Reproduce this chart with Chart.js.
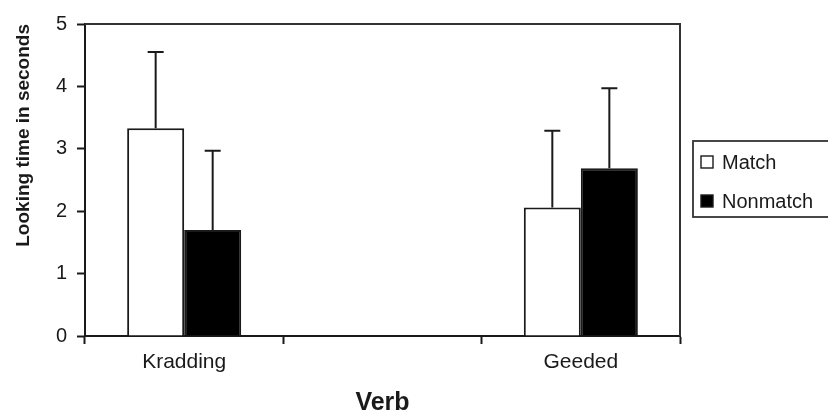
<!DOCTYPE html>
<html>
<head>
<meta charset="utf-8">
<script src="https://cdn.jsdelivr.net/npm/chart.js@4.4.1/dist/chart.umd.min.js"></script>
<style>
  html, body { margin: 0; padding: 0; background: #fff; }
  #wrap { width: 828px; height: 412px; position: relative; }
</style>
</head>
<body>
<div id="wrap"><canvas id="chart"></canvas></div>
<script>
// Looking time per verb, match vs nonmatch trials
const verbs = ['Kradding', '', 'Geeded'];
const matchMeans = [3.33, null, 2.06];
const matchErrors = [1.22, null, 1.23];
const nonmatchMeans = [1.70, null, 2.69];
const nonmatchErrors = [1.27, null, 1.28];
const yTicks = [0, 1, 2, 3, 4, 5];

const ink = '#1a1a1a';
const fontFamily = '"Liberation Sans", Arial, sans-serif';

// Upper error bars with caps
const errorBars = {
  id: 'errorBars',
  afterDatasetsDraw(chart) {
    const ctx = chart.ctx;
    const yScale = chart.scales.y;
    ctx.save();
    ctx.strokeStyle = ink;
    ctx.lineWidth = 2;
    chart.data.datasets.forEach((ds, i) => {
      const meta = chart.getDatasetMeta(i);
      meta.data.forEach((bar, j) => {
        const v = ds.data[j];
        const e = ds.errors[j];
        if (v == null || e == null) return;
        const y0 = yScale.getPixelForValue(v);
        const y1 = yScale.getPixelForValue(v + e);
        ctx.beginPath();
        ctx.moveTo(bar.x, y0);
        ctx.lineTo(bar.x, y1);
        ctx.moveTo(bar.x - 8, y1);
        ctx.lineTo(bar.x + 8, y1);
        ctx.stroke();
      });
    });
    ctx.restore();
  }
};

// Top and right edges of the plot frame
const frame = {
  id: 'frame',
  beforeDatasetsDraw(chart) {
    const { ctx, chartArea: a } = chart;
    ctx.save();
    ctx.strokeStyle = '#333';
    ctx.lineWidth = 2;
    ctx.beginPath();
    ctx.moveTo(a.left, a.top);
    ctx.lineTo(a.right, a.top);
    ctx.lineTo(a.right, a.bottom);
    ctx.stroke();
    ctx.restore();
  }
};

// Boxed legend to the right of the plot
const boxLegend = {
  id: 'boxLegend',
  afterDraw(chart) {
    const ctx = chart.ctx;
    const x = 693, y = 141, w = 140, h = 76;
    ctx.save();
    ctx.strokeStyle = '#333';
    ctx.lineWidth = 1.8;
    ctx.strokeRect(x, y, w, h);
    ctx.font = '20px ' + fontFamily;
    ctx.textBaseline = 'middle';
    const rows = [162, 201];
    chart.data.datasets.forEach((ds, i) => {
      const cy = rows[i];
      ctx.fillStyle = ds.backgroundColor;
      ctx.fillRect(701, cy - 6, 12, 12);
      ctx.strokeStyle = ink;
      ctx.lineWidth = 1.4;
      ctx.strokeRect(701, cy - 6, 12, 12);
      ctx.fillStyle = ink;
      ctx.fillText(ds.label, 722, cy + 1);
    });
    ctx.restore();
  }
};

new Chart(document.getElementById('chart'), {
  type: 'bar',
  data: {
    labels: verbs,
    datasets: [
      {
        label: 'Match',
        data: matchMeans,
        errors: matchErrors,
        backgroundColor: '#ffffff',
        borderColor: ink,
        borderWidth: 2
      },
      {
        label: 'Nonmatch',
        data: nonmatchMeans,
        errors: nonmatchErrors,
        backgroundColor: '#000000',
        borderColor: ink,
        borderWidth: 2
      }
    ]
  },
  options: {
    responsive: true,
    maintainAspectRatio: false,
    animation: false,
    devicePixelRatio: 1,
    layout: { padding: { left: 0, top: 24, right: 148, bottom: 0 } },
    datasets: {
      bar: { categoryPercentage: 0.575, barPercentage: 1 }
    },
    plugins: {
      legend: { display: false },
      tooltip: { enabled: false }
    },
    scales: {
      x: {
        afterFit(scale) { scale.height = 76; },
        grid: {
          offset: true,
          drawOnChartArea: false,
          drawTicks: true,
          tickLength: 8,
          tickColor: ink,
          tickWidth: 2
        },
        border: { display: true, color: ink, width: 2 },
        ticks: {
          color: ink,
          padding: 6,
          maxRotation: 0,
          font: { family: fontFamily, size: 21 }
        },
        title: {
          display: true,
          text: 'Verb',
          color: ink,
          padding: { top: 0, bottom: -4 },
          font: { family: fontFamily, size: 25, weight: 'bold', lineHeight: 1 }
        }
      },
      y: {
        min: 0,
        max: 5,
        afterFit(scale) { scale.width = 85; },
        afterBuildTicks(scale) { scale.ticks = yTicks.map(v => ({ value: v })); },
        grid: {
          drawOnChartArea: false,
          drawTicks: true,
          tickLength: 8,
          tickColor: ink,
          tickWidth: 2
        },
        border: { display: true, color: ink, width: 2 },
        ticks: {
          color: ink,
          padding: 10,
          font: { family: fontFamily, size: 20 }
        },
        title: {
          display: true,
          text: 'Looking time in seconds',
          align: 'end',
          color: ink,
          padding: { top: 12, bottom: 0 },
          font: { family: fontFamily, size: 19, weight: 'bold' }
        }
      }
    }
  },
  plugins: [errorBars, frame, boxLegend]
});
</script>
</body>
</html>
